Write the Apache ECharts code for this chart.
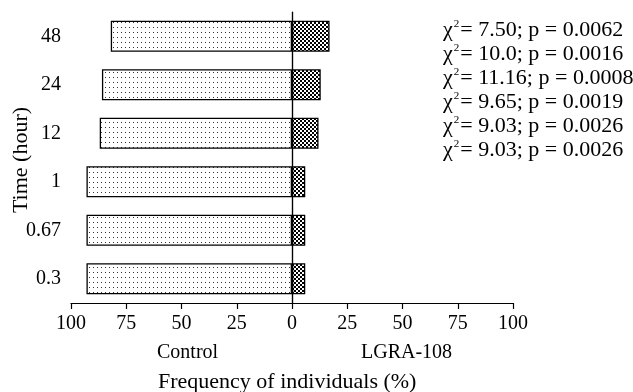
<!DOCTYPE html>
<html><head><meta charset="utf-8">
<script src="https://cdn.jsdelivr.net/npm/echarts@6/dist/echarts.min.js"></script>
<style>html,body{margin:0;padding:0;background:#fff}#c{width:633px;height:392px}</style>
</head><body><div id="c"></div>
<script>
const categories = ['0.3', '0.67', '1', '12', '24', '48'];
const controlValues = [93, 93, 93, 87, 86, 82];
const lgraValues = [6, 6, 6, 12, 13, 17];
const xTicks = [-100, -75, -50, -25, 0, 25, 50, 75, 100];
const statLabels = [
  ['7.50', '0.0062'],
  ['10.0', '0.0016'],
  ['11.16', '0.0008'],
  ['9.65', '0.0019'],
  ['9.03', '0.0026'],
  ['9.03', '0.0026']
];
const groupNames = ['Control', 'LGRA-108'];
const axisTitles = ['Frequency of individuals (%)', 'Time (hour)'];

function dotPattern() {
  const c = document.createElement('canvas');
  c.width = 4; c.height = 5;
  const g = c.getContext('2d');
  g.fillStyle = '#fff'; g.fillRect(0, 0, 4, 5);
  g.fillStyle = '#333'; g.fillRect(1, 2, 1, 1);
  return c;
}
function checkPattern() {
  const c = document.createElement('canvas');
  c.width = 4; c.height = 4;
  const g = c.getContext('2d');
  g.fillStyle = '#fff'; g.fillRect(0, 0, 4, 4);
  g.fillStyle = '#000';
  g.fillRect(0, 0, 2, 2); g.fillRect(2, 2, 2, 2);
  return c;
}

const FONT = 'Liberation Serif';
const FS = 20;
const FS2 = 22;
const chart = echarts.init(document.getElementById('c'), null, {renderer: 'canvas'});

const statGraphics = statLabels.map((s, i) => ({
  type: 'text',
  left: 443,
  top: 19 + i * 24,
  style: {
    text: '{a|χ}{s|2}{a|= ' + s[0] + '; p = ' + s[1] + '}',
    rich: {
      a: {fontFamily: FONT, fontSize: FS2, fill: '#000'},
      s: {fontFamily: FONT, fontSize: 11, fill: '#000', verticalAlign: 'top', padding: [0, 1, 11, 1]}
    }
  }
}));

chart.setOption({
  animation: false,
  grid: {left: 71, right: 120, top: 12, bottom: 89, outerBoundsMode: 'none', containLabel: false},
  xAxis: {
    type: 'value', min: xTicks[0], max: xTicks[xTicks.length - 1], interval: 25,
    axisLine: {show: true, lineStyle: {color: '#000', width: 1.2}},
    axisTick: {show: true, length: 6, lineStyle: {color: '#000', width: 1.2}},
    axisLabel: {fontFamily: FONT, fontSize: FS, color: '#000', margin: 11,
      formatter: v => String(Math.abs(v))},
    splitLine: {show: false}
  },
  yAxis: {
    type: 'category', data: categories,
    axisLine: {show: true, lineStyle: {color: '#000', width: 1.2}},
    axisTick: {show: true, alignWithLabel: true, length: 5, lineStyle: {color: '#000', width: 1.2}},
    axisLabel: {fontFamily: FONT, fontSize: FS, color: '#000', margin: 10}
  },
  series: [
    {
      name: groupNames[0], type: 'bar', stack: 'a', barWidth: 31,
      data: controlValues.map(v => -v),
      itemStyle: {color: {image: dotPattern(), repeat: 'repeat'}, borderColor: '#000', borderWidth: 1.3},
      markLine: {
        silent: true, symbol: 'none', label: {show: false},
        lineStyle: {color: '#000', type: 'solid', width: 1.2},
        data: [{xAxis: 0}]
      }
    },
    {
      name: groupNames[1], type: 'bar', stack: 'a', barWidth: 31,
      data: lgraValues,
      itemStyle: {color: {image: checkPattern(), repeat: 'repeat'}, borderColor: '#000', borderWidth: 1.3}
    }
  ],
  graphic: [
    {type: 'text', left: 157, top: 343, style: {text: groupNames[0], fontFamily: FONT, fontSize: FS, fill: '#000'}},
    {type: 'text', left: 361, top: 343, style: {text: groupNames[1], fontFamily: FONT, fontSize: FS, fill: '#000'}},
    {type: 'text', left: 158, top: 371, style: {text: axisTitles[0], fontFamily: FONT, fontSize: FS2, fill: '#000'}},
    {type: 'text', x: 21, y: 160, rotation: Math.PI / 2,
      style: {text: axisTitles[1], fontFamily: FONT, fontSize: FS2, fill: '#000', align: 'center', verticalAlign: 'middle'}}
  ].concat(statGraphics)
});
</script></body></html>
